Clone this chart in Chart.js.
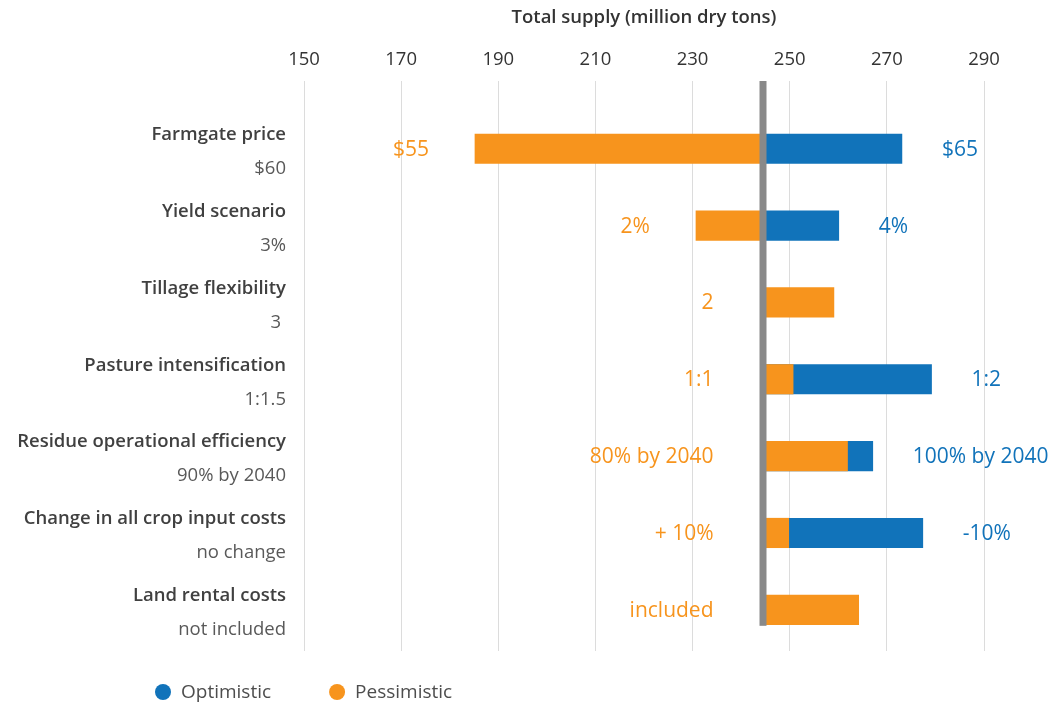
<!DOCTYPE html>
<html>
<head>
<meta charset="utf-8">
<script src="https://cdn.jsdelivr.net/npm/chart.js@4.4.1/dist/chart.umd.min.js"></script>
<style>
  html, body { margin: 0; padding: 0; background: #fff; }
  #wrap { width: 1055px; height: 707px; position: relative; }
</style>
</head>
<body>
<div id="wrap"><canvas id="supplyChart"></canvas></div>
<script>
const factors = [
  "Farmgate price",
  "Yield scenario",
  "Tillage flexibility",
  "Pasture intensification",
  "Residue operational efficiency",
  "Change in all crop input costs",
  "Land rental costs",
];
const baseCases = ["$60", "3%", "3 ", "1:1.5", "90% by 2040", "no change", "not included"];

// total supply under the base case, million dry tons
const baseline = 244.5;
const optimistic = [273.1, 260.1, null, 279.2, 267.1, 277.4, null];
const pessimistic = [185.2, 230.7, 259.1, 250.7, 261.9, 249.8, 264.2];
const optimisticLabels = ["$65", "4%", "", "1:2", "100% by 2040", "-10%", ""];
const pessimisticLabels = ["$55", "2%", "2", "1:1", "80% by 2040", "+ 10%", "included"];

const xTicks = [150, 170, 190, 210, 230, 250, 270, 290];

const BLUE = "#1173ba";
const ORANGE = "#f7941d";
const FONT = "'Open Sans', 'DejaVu Sans', sans-serif";

const toBars = values => values
  .map((v, i) => v == null ? null : { x: [baseline, v], y: i })
  .filter(d => d);

// category names with their base case underneath
const categoryLabels = {
  id: "categoryLabels",
  afterDraw(chart) {
    const { ctx } = chart;
    const y = chart.scales.y;
    ctx.save();
    ctx.textAlign = "right";
    ctx.textBaseline = "middle";
    factors.forEach((name, i) => {
      const py = y.getPixelForValue(i);
      ctx.font = "600 18.5px " + FONT;
      ctx.fillStyle = "#404040";
      ctx.fillText(name, 286, py - 14);
      ctx.font = "400 18.5px " + FONT;
      ctx.fillStyle = "#595959";
      ctx.fillText(baseCases[i], 286, py + 20);
    });
    ctx.restore();
  }
};

// base line and scenario labels beside the bars
const barAnnotations = {
  id: "barAnnotations",
  afterDatasetsDraw(chart) {
    const { ctx, chartArea } = chart;
    const x = chart.scales.x;
    const y = chart.scales.y;
    const bx = x.getPixelForValue(baseline);

    ctx.save();
    ctx.fillStyle = "#898989";
    ctx.fillRect(bx - 3.5, chartArea.top, 7, y.getPixelForValue(factors.length - 1) + 16 - chartArea.top);

    ctx.font = "500 21px " + FONT;
    ctx.textBaseline = "middle";
    factors.forEach((_, i) => {
      const py = y.getPixelForValue(i) + 1;
      if (pessimisticLabels[i]) {
        const left = Math.min(x.getPixelForValue(pessimistic[i]), bx - 3.5);
        ctx.textAlign = "right";
        ctx.fillStyle = ORANGE;
        ctx.fillText(pessimisticLabels[i], left - 46, py);
      }
      if (optimisticLabels[i] && optimistic[i] != null) {
        ctx.textAlign = "left";
        ctx.fillStyle = BLUE;
        ctx.fillText(optimisticLabels[i], x.getPixelForValue(optimistic[i]) + 40, py);
      }
    });
    ctx.restore();
  }
};

// round-marker legend along the bottom
const dotLegend = {
  id: "dotLegend",
  afterDraw(chart) {
    const { ctx } = chart;
    let cx = 163;
    const cy = 692;
    ctx.save();
    ctx.font = "400 19px " + FONT;
    ctx.textBaseline = "middle";
    ctx.textAlign = "left";
    chart.data.datasets.forEach(ds => {
      ctx.fillStyle = ds.backgroundColor;
      ctx.beginPath();
      ctx.arc(cx, cy, 8, 0, Math.PI * 2);
      ctx.fill();
      ctx.fillStyle = "#4d4d4d";
      ctx.fillText(ds.label, cx + 18, cy + 1);
      cx += 18 + ctx.measureText(ds.label).width + 66;
    });
    ctx.restore();
  }
};

new Chart(document.getElementById("supplyChart"), {
  type: "bar",
  data: {
    datasets: [
      {
        label: "Optimistic",
        data: toBars(optimistic),
        backgroundColor: BLUE,
        order: 1,
      },
      {
        label: "Pessimistic",
        data: toBars(pessimistic),
        backgroundColor: ORANGE,
        order: 0,
      },
    ]
  },
  options: {
    indexAxis: "y",
    responsive: true,
    maintainAspectRatio: false,
    animation: false,
    grouped: false,
    barThickness: 29.5,
    borderSkipped: false,
    layout: { padding: { left: 304, right: 71, top: 0, bottom: 56 } },
    plugins: {
      legend: { display: false },
      tooltip: { enabled: false },
    },
    scales: {
      x: {
        position: "top",
        min: 150,
        max: 290,
        afterBuildTicks: s => { s.ticks = xTicks.map(v => ({ value: v })); },
        afterFit: s => { s.height = 81; },
        ticks: {
          color: "#333333",
          padding: 10,
          font: { family: FONT, size: 18.5, weight: "400" },
        },
        grid: { color: "#dcdcdc", lineWidth: 1, drawTicks: false },
        border: { display: false },
        title: {
          display: true,
          text: "Total supply (million dry tons)",
          color: "#333333",
          font: { family: FONT, size: 18.5, weight: "600" },
          padding: { top: 7, bottom: 0 },
        },
      },
      y: {
        type: "linear",
        reverse: true,
        offset: false,
        min: -0.881,
        max: 6.536,
        display: false,
      },
    },
  },
  plugins: [categoryLabels, barAnnotations, dotLegend],
});
</script>
</body>
</html>
